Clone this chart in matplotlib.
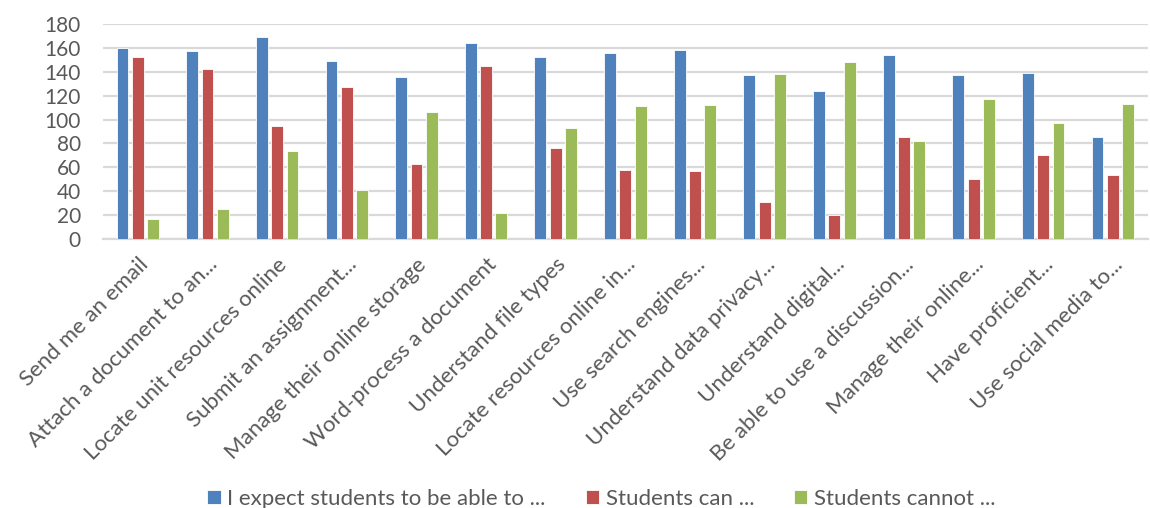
import numpy as np
import matplotlib
matplotlib.use("Agg")
import matplotlib.pyplot as plt

# data
categories = [
    "Send me an email",
    "Attach a document to an...",
    "Locate unit resources online",
    "Submit an assignment...",
    "Manage their online storage",
    "Word-process a document",
    "Understand file types",
    "Locate resources online in...",
    "Use search engines...",
    "Understand data privacy...",
    "Understand digital...",
    "Be able to use a discussion...",
    "Manage their online...",
    "Have proficient...",
    "Use social media to...",
]
expect = [160, 157, 169, 149, 136, 164, 152, 156, 158, 137, 124, 154, 137, 139, 85]
can = [152, 142, 95, 127, 63, 145, 76, 58, 57, 31, 20, 85, 50, 70, 54]
cannot = [17, 25, 74, 41, 106, 22, 93, 111, 112, 138, 148, 82, 117, 97, 113]
series_names = ["I expect students to be able to ...", "Students can ...", "Students cannot ..."]

colors = ["#4F81BD", "#C0504D", "#9BBB59"]
txt = "#595959"

plt.rcParams['font.family'] = ['Lato', 'DejaVu Sans']

fig = plt.figure(figsize=(11.5, 5.08), dpi=100)
ax = fig.add_axes([0.0896, 0.5295, 0.9084, 0.4233])

x = np.arange(len(categories))
w = 0.17
step = 0.22
for i, (vals, c, name) in enumerate(zip([expect, can, cannot], colors, series_names)):
    ax.bar(x + (i - 1) * step, vals, width=w, color=c, edgecolor="white",
           linewidth=0.6, label=name, zorder=3)

ax.set_xlim(-0.5, len(categories) - 0.5)
ax.set_ylim(0, 180)
ax.set_yticks(range(0, 181, 20))
ax.yaxis.grid(True, color="#D9D9D9", linewidth=1.6, zorder=0)
ax.set_axisbelow(True)
for s in ["top", "right", "left"]:
    ax.spines[s].set_visible(False)
ax.spines["bottom"].set_color("#D9D9D9")
ax.spines["bottom"].set_linewidth(1.6)
ax.tick_params(axis="y", length=0, pad=16, labelsize=15, labelcolor=txt)
ax.tick_params(axis="x", length=0, pad=11)
ax.set_xticks(x)
ax.set_xticklabels(categories, rotation=45, ha="right", va="top",
                   rotation_mode="anchor", fontsize=16, color=txt)

leg = fig.legend(loc="center", bbox_to_anchor=(0.523, 0.018), ncol=3,
                 frameon=False, fontsize=16, handlelength=0.6, handleheight=0.6,
                 handletextpad=0.3, columnspacing=1.8)
for t in leg.get_texts():
    t.set_color(txt)

fig.savefig("out.png", dpi=100)
